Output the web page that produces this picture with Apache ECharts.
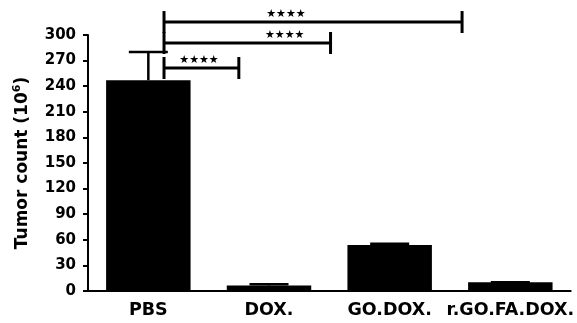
<!DOCTYPE html>
<html>
<head>
<meta charset="utf-8">
<script src="https://cdn.jsdelivr.net/npm/echarts@6/dist/echarts.min.js"></script>
<style>html,body{margin:0;padding:0;background:#fff}#c{width:577px;height:323px}</style>
</head>
<body>
<div id="c"></div>
<script>
var categories = ['PBS', 'DOX.', 'GO.DOX.', 'r.GO.FA.DOX.'];
var means = [247, 6.5, 54, 10.3];
var errors = [33, 1.5, 1.3, 0];
var yTicks = [0, 30, 60, 90, 120, 150, 180, 210, 240, 270, 300];
// significance brackets: [start (category position), end (category position), level]
var brackets = [[0.13, 0.75, 261.3], [0.13, 1.51, 290.6], [0.13, 2.6, 315.2]];
// star label positions: [category position, level]
var starLabels = [[0.42, 261.3], [1.13, 290.6], [1.14, 315.2]];
var starText = ['★★★★', '★★★★', '★★★★'];

var FONT = 'DejaVu Sans';
var chart = echarts.init(document.getElementById('c'), null, {renderer: 'canvas'});

var errData = categories.map(function (c, i) { return [i, means[i], errors[i]]; });
var brData = brackets.map(function (b) { return b.slice(); });
var stData = starLabels.map(function (s, i) { return [s[0], s[1], i]; });

chart.setOption({
  animation: false,
  grid: {left: 88, right: 5, top: 35, bottom: 32, containLabel: false},
  xAxis: [{
    type: 'category',
    data: categories,
    axisLine: {onZero: false, lineStyle: {color: '#000', width: 2}},
    axisTick: {alignWithLabel: true, length: 5, lineStyle: {color: '#000', width: 2}},
    axisLabel: {color: '#000', fontFamily: FONT, fontWeight: 'bold', fontSize: 17.5, margin: 10, interval: 0},
    splitLine: {show: false}
  }, {
    type: 'value', min: -0.5, max: 3.5, show: false
  }],
  yAxis: {
    type: 'value',
    min: yTicks[0], max: yTicks[yTicks.length - 1], interval: yTicks[1] - yTicks[0],
    axisLine: {show: true, onZero: false, lineStyle: {color: '#000', width: 2}},
    axisTick: {show: true, length: 5, lineStyle: {color: '#000', width: 2}},
    axisLabel: {color: '#000', fontFamily: FONT, fontWeight: 'bold', fontSize: 15, margin: 12},
    splitLine: {show: false},
    name: '{a|Tumor count (10}{s|6}{a|)}',
    nameLocation: 'middle',
    nameGap: 54,
    nameTextStyle: {
      color: '#000',
      rich: {
        a: {fontFamily: FONT, fontWeight: 'bold', fontSize: 17, color: '#000', lineHeight: 22},
        s: {fontFamily: FONT, fontWeight: 'bold', fontSize: 11, color: '#000', verticalAlign: 'top', lineHeight: 14}
      }
    }
  },
  series: [{
    type: 'bar',
    data: means,
    barCategoryGap: '30%',
    itemStyle: {color: '#000'},
    z: 2
  }, {
    type: 'custom',
    data: errData,
    z: 3,
    renderItem: function (params, api) {
      var i = api.value(0), m = api.value(1), e = api.value(2);
      var p0 = api.coord([i, m]);
      var p1 = api.coord([i, m + e]);
      var hw = 19.5;
      return {
        type: 'group',
        children: [
          {type: 'line', shape: {x1: p0[0], y1: p0[1], x2: p1[0], y2: p1[1]}, style: {stroke: '#000', lineWidth: 2.5}},
          {type: 'line', shape: {x1: p1[0] - hw, y1: p1[1], x2: p1[0] + hw, y2: p1[1]}, style: {stroke: '#000', lineWidth: 2.5}}
        ]
      };
    }
  }, {
    type: 'custom',
    xAxisIndex: 1,
    data: brData,
    z: 4,
    clip: false,
    renderItem: function (params, api) {
      var a = api.coord([api.value(0), api.value(2)]);
      var b = api.coord([api.value(1), api.value(2)]);
      var t = 11;
      var st = {stroke: '#000', lineWidth: 3};
      return {
        type: 'group',
        children: [
          {type: 'line', shape: {x1: a[0], y1: a[1], x2: b[0], y2: b[1]}, style: st},
          {type: 'line', shape: {x1: a[0], y1: a[1] - t, x2: a[0], y2: a[1] + t}, style: st},
          {type: 'line', shape: {x1: b[0], y1: b[1] - t, x2: b[0], y2: b[1] + t}, style: st}
        ]
      };
    }
  }, {
    type: 'custom',
    xAxisIndex: 1,
    data: stData,
    z: 5,
    clip: false,
    renderItem: function (params, api) {
      var p = api.coord([api.value(0), api.value(1)]);
      return {
        type: 'text',
        x: p[0], y: p[1] - 8,
        style: {text: starText[api.value(2)], fill: '#000', font: '11px "DejaVu Sans"', align: 'center', verticalAlign: 'middle'}
      };
    }
  }]
});
</script>
</body>
</html>
